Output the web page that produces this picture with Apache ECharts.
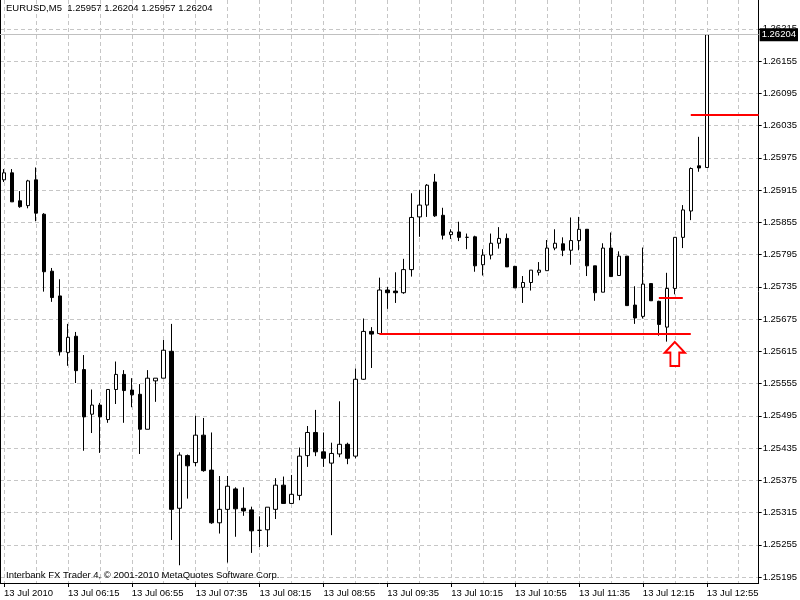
<!DOCTYPE html>
<html><head><meta charset="utf-8">
<script src="https://cdn.jsdelivr.net/npm/echarts@6/dist/echarts.min.js"></script>
<style>html,body{margin:0;padding:0;background:#fff}#c{width:800px;height:600px}</style>
</head><body><div id="c"></div>
<script>
const symbolName = 'EURUSD,M5';
const footerText = 'Interbank FX Trader 4, \u00A9 2001-2010 MetaQuotes Software Corp.';

// OHLC of 89 five-minute bars, 13 Jul 2010 05:35 .. 12:55
const opens = [1.25934,1.25947,1.25895,1.25886,1.25934,1.25870,1.25764,1.25718,1.25613,1.25643,
1.25581,1.25498,1.25515,1.25488,1.25544,1.25572,1.25543,1.25535,1.25470,1.25560,
1.25565,1.25615,1.25323,1.25421,1.25408,1.25459,1.25394,1.25296,1.25321,1.25359,
1.25323,1.25320,1.25282,1.25283,1.25321,1.25366,1.25332,1.25347,1.25421,1.25464,
1.25428,1.25407,1.25424,1.25442,1.25420,1.25563,1.25652,1.25648,1.25729,1.25727,
1.25724,1.25767,1.25865,1.25887,1.25930,1.25868,1.25832,1.25837,1.25827,1.25828,
1.25776,1.25794,1.25816,1.25825,1.25773,1.25734,1.25743,1.25762,1.25765,1.25807,
1.25815,1.25803,1.25821,1.25842,1.25774,1.25725,1.25807,1.25756,1.25792,1.25701,
1.25680,1.25741,1.25708,1.25660,1.25732,1.25827,1.25876,1.25960,1.25957];
const highs = [1.25954,1.25954,1.25913,1.25934,1.25957,1.25872,1.25770,1.25749,1.25666,1.25651,
1.25608,1.25544,1.25519,1.25544,1.25596,1.25580,1.25565,1.25554,1.25580,1.25565,
1.25636,1.25666,1.25427,1.25423,1.25495,1.25491,1.25464,1.25383,1.25383,1.25362,
1.25362,1.25326,1.25308,1.25325,1.25379,1.25382,1.25385,1.25436,1.25476,1.25506,
1.25464,1.25445,1.25522,1.25445,1.25583,1.25676,1.25660,1.25752,1.25735,1.25762,
1.25787,1.25909,1.25915,1.25926,1.25945,1.25882,1.25842,1.25856,1.25834,1.25830,
1.25805,1.25834,1.25846,1.25834,1.25774,1.25755,1.25766,1.25781,1.25822,1.25842,
1.25827,1.25864,1.25865,1.25842,1.25774,1.25816,1.25836,1.25801,1.25792,1.25736,
1.25808,1.25741,1.25709,1.25761,1.25827,1.25887,1.25957,1.26014,1.26204];
const lows = [1.25930,1.25893,1.25882,1.25881,1.25857,1.25726,1.25707,1.25607,1.25588,1.25556,
1.25430,1.25463,1.25426,1.25482,1.25517,1.25482,1.25511,1.25424,1.25470,1.25521,
1.25565,1.25264,1.25217,1.25341,1.25401,1.25391,1.25294,1.25276,1.25222,1.25270,
1.25309,1.25240,1.25251,1.25251,1.25303,1.25332,1.25332,1.25338,1.25400,1.25420,
1.25400,1.25273,1.25418,1.25405,1.25416,1.25562,1.25584,1.25648,1.25694,1.25705,
1.25722,1.25754,1.25828,1.25865,1.25865,1.25823,1.25824,1.25820,1.25805,1.25763,
1.25756,1.25786,1.25806,1.25772,1.25733,1.25705,1.25728,1.25756,1.25765,1.25803,
1.25792,1.25776,1.25803,1.25755,1.25709,1.25725,1.25754,1.25756,1.25700,1.25666,
1.25676,1.25709,1.25644,1.25633,1.25721,1.25807,1.25859,1.25949,1.25957];
const closes = [1.25947,1.25893,1.25884,1.25932,1.25872,1.25763,1.25715,1.25614,1.25641,1.25579,
1.25493,1.25515,1.25493,1.25544,1.25572,1.25542,1.25534,1.25470,1.25565,1.25565,
1.25617,1.25321,1.25422,1.25402,1.25459,1.25393,1.25296,1.25321,1.25364,1.25322,
1.25318,1.25281,1.25282,1.25325,1.25366,1.25332,1.25349,1.25420,1.25464,1.25428,
1.25416,1.25425,1.25442,1.25416,1.25563,1.25652,1.25647,1.25729,1.25724,1.25724,
1.25767,1.25864,1.25887,1.25924,1.25867,1.25831,1.25837,1.25827,1.25827,1.25774,
1.25794,1.25816,1.25825,1.25772,1.25733,1.25743,1.25766,1.25766,1.25807,1.25816,
1.25803,1.25821,1.25842,1.25774,1.25724,1.25807,1.25754,1.25792,1.25700,1.25677,
1.25740,1.25709,1.25665,1.25732,1.25827,1.25878,1.25955,1.25956,1.26204];

const xTickBars = [0,8,16,24,32,40,48,56,64,72,80,88];
const xTickLabels = ['13 Jul 2010','13 Jul 06:15','13 Jul 06:55','13 Jul 07:35','13 Jul 08:15','13 Jul 08:55',
  '13 Jul 09:35','13 Jul 10:15','13 Jul 10:55','13 Jul 11:35','13 Jul 12:15','13 Jul 12:55'];
const xGridBars = [0,4,8,12,16,20,24,28,32,36,40,44,48,52,56,60,64,68,72,76,80,84,88,92];
const yTickValues = [1.25195,1.25255,1.25315,1.25375,1.25435,1.25495,1.25555,1.25615,1.25675,
  1.25735,1.25795,1.25855,1.25915,1.25975,1.26035,1.26095,1.26155,1.26215];

const bidPrice = 1.26204;
const supportLine = {price: 1.25648, from: 47, to: 86};
const triggerLine = {price: 1.25715, from: 82, to: 85};
const targetLine = {price: 1.26055, from: 86, to: 94.5};
const arrowMark = {bar: 84, price: 1.25610};

const FONT = "'Liberation Sans', Arial, sans-serif";
const FS = 9.5;
const GRID_LINE = {color: '#c6c6c6', type: [4, 3], width: 1};
const X_MIN = -0.5, X_MAX = 94.5;
const Y_MIN = 1.25184, Y_MAX = 1.262685;

const candleData = opens.map((o, i) => [i, o, closes[i], lows[i], highs[i]]);
const n = opens.length - 1;
const headerText = symbolName + '  ' + [opens[n], highs[n], lows[n], closes[n]].map(v => v.toFixed(5)).join(' ');

const redStyle = {color: '#ff0000', width: 2, type: 'solid'};
function seg(l) {
  return [{coord: [l.from, l.price], lineStyle: redStyle, label: {show: false}},
          {coord: [l.to, l.price]}];
}

const chart = echarts.init(document.getElementById('c'), null, {renderer: 'canvas'});
chart.setOption({
  animation: false,
  backgroundColor: '#ffffff',
  grid: {left: 0, right: 40, top: 0, bottom: 17, containLabel: false},
  xAxis: [{
    type: 'value', min: X_MIN, max: X_MAX, position: 'bottom',
    axisLine: {show: true, onZero: false, lineStyle: {color: '#000', width: 1}},
    axisTick: {show: true, customValues: xTickBars, length: 4, lineStyle: {color: '#000'}},
    axisLabel: {show: true, customValues: xTickBars, align: 'left', margin: 5,
      color: '#000', fontSize: FS, fontFamily: FONT,
      formatter: v => xTickLabels[xTickBars.indexOf(Math.round(v))] || ''},
    splitLine: {show: false}
  }, {
    type: 'value', min: X_MIN, max: X_MAX, position: 'bottom',
    axisLine: {show: false}, axisLabel: {show: false},
    axisTick: {show: false, customValues: xGridBars},
    splitLine: {show: true, lineStyle: GRID_LINE}
  }],
  yAxis: [{
    type: 'value', min: Y_MIN, max: Y_MAX, position: 'right', scale: true,
    axisLine: {show: true, onZero: false, lineStyle: {color: '#000', width: 1}},
    axisTick: {show: true, customValues: yTickValues, length: 3, lineStyle: {color: '#000'}},
    axisLabel: {show: true, customValues: yTickValues, margin: 4, color: '#000',
      fontSize: FS, fontFamily: FONT, formatter: v => v.toFixed(5)},
    splitLine: {show: true, lineStyle: GRID_LINE}
  }, {
    type: 'value', min: Y_MIN, max: Y_MAX, position: 'left', scale: true,
    axisLine: {show: true, onZero: false, lineStyle: {color: '#000', width: 1}},
    axisTick: {show: false}, axisLabel: {show: false}, splitLine: {show: false}
  }],
  graphic: [
    {type: 'text', left: 6, top: 3, z: 100,
      style: {text: headerText, fill: '#000', font: FS + 'px ' + FONT}},
    {type: 'text', left: 6, top: 570, z: 100,
      style: {text: footerText, fill: '#000', font: FS + 'px ' + FONT}}
  ],
  series: [{
    type: 'candlestick',
    xAxisIndex: 0, yAxisIndex: 0,
    data: candleData,
    encode: {x: 0, y: [1, 2, 3, 4]},
    barWidth: 4,
    itemStyle: {color: '#ffffff', color0: '#000000', borderColor: '#000000',
      borderColor0: '#000000', borderColorDoji: '#000000', borderWidth: 1},
    markLine: {
      silent: true, symbol: ['none', 'none'], animation: false,
      data: [
        [{coord: [X_MIN, bidPrice], lineStyle: {color: '#c0c0c0', width: 1, type: 'solid'},
          label: {show: true, position: 'end', distance: 1, formatter: bidPrice.toFixed(5),
            color: '#fff', backgroundColor: '#000', padding: [2, 2, 1, 2],
            fontSize: FS, fontFamily: FONT}},
         {coord: [X_MAX, bidPrice]}],
        seg(supportLine), seg(triggerLine), seg(targetLine)
      ]
    },
    markPoint: {
      silent: true, animation: false,
      data: [{coord: [arrowMark.bar, arrowMark.price],
        symbol: 'path://M50,0 L100,44 L72,44 L72,100 L28,100 L28,44 L0,44 Z',
        symbolSize: [20, 24],
        itemStyle: {color: '#ffffff', borderColor: '#ff0000', borderWidth: 2},
        label: {show: false}}]
    }
  }]
});
</script></body></html>
